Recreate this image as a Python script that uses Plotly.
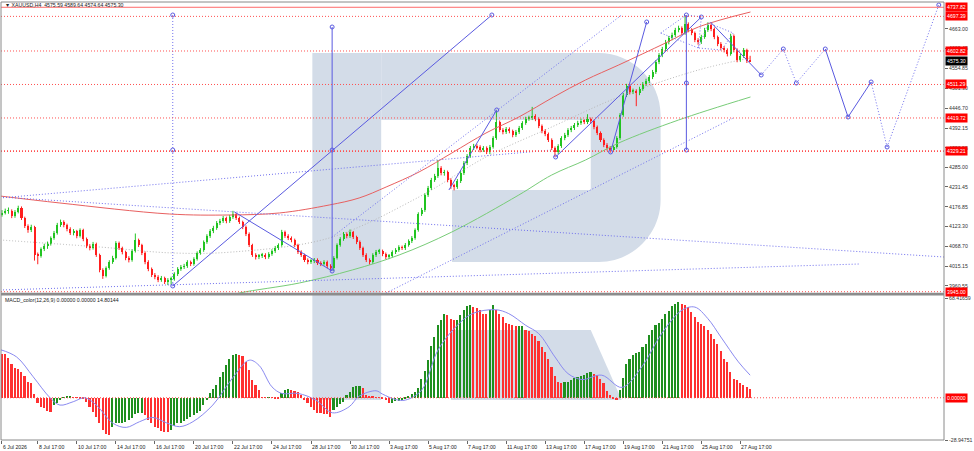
import plotly.graph_objects as go

# ---------------- data ----------------
closes = [4160.1, 4165.5, 4166.8, 4151.9, 4162.8, 4173.7, 4146.4, 4124.5, 4113.6, 4121.8,
          4045.3, 4042.6, 4061.7, 4069.9, 4075.3, 4091.7, 4105.4, 4127.3, 4135.5, 4127.3,
          4116.3, 4105.4, 4110.9, 4097.2, 4113.6, 4089.0, 4069.9, 4064.4, 4075.3, 4045.3,
          4004.3, 3987.9, 4009.8, 4026.2, 4037.1, 4078.1, 4064.4, 4053.5, 4037.1, 4031.6,
          4056.2, 4086.3, 4072.6, 4050.8, 4026.2, 4007.0, 3990.6, 3985.2, 3977.0, 3982.4,
          3971.5, 3977.0, 3979.7, 3993.4, 4007.0, 4012.5, 4015.2, 4026.2, 4020.7, 4034.4,
          4050.8, 4058.9, 4080.8, 4097.2, 4110.9, 4119.1, 4132.7, 4138.2, 4146.4, 4138.2,
          4149.1, 4157.3, 4146.4, 4135.5, 4121.8, 4102.7, 4072.6, 4045.3, 4039.8, 4042.6,
          4045.3, 4039.8, 4048.0, 4056.2, 4064.4, 4072.6, 4108.1, 4097.2, 4091.7, 4086.3,
          4072.6, 4053.5, 4045.3, 4031.6, 4026.2, 4028.9, 4031.6, 4023.4, 4020.7, 4026.2,
          4015.2, 4009.8, 4037.1, 4072.6, 4089.0, 4102.7, 4097.2, 4108.1, 4094.5, 4080.8,
          4064.4, 4045.3, 4031.6, 4026.2, 4045.3, 4053.5, 4056.2, 4048.0, 4039.8, 4042.6,
          4053.5, 4058.9, 4067.1, 4064.4, 4072.6, 4083.5, 4091.7, 4113.6, 4157.3, 4168.3,
          4209.3, 4228.4, 4250.3, 4261.2, 4283.1, 4269.4, 4272.1, 4250.3, 4233.9, 4231.1,
          4247.5, 4269.4, 4296.7, 4315.9, 4337.7, 4343.2, 4340.4, 4332.2, 4337.7, 4326.8,
          4340.4, 4365.0, 4408.8, 4386.9, 4381.4, 4389.6, 4384.2, 4373.2, 4381.4, 4392.4,
          4406.0, 4417.0, 4419.7, 4425.2, 4417.0, 4397.8, 4384.2, 4376.0, 4359.6, 4337.7,
          4326.8, 4343.2, 4365.0, 4373.2, 4386.9, 4392.4, 4400.6, 4406.0, 4411.5, 4408.8,
          4417.0, 4411.5, 4395.1, 4378.7, 4359.6, 4345.9, 4337.7, 4332.2, 4340.4, 4365.0,
          4427.9, 4482.6, 4507.2, 4490.8, 4493.5, 4488.0, 4499.0, 4512.6, 4520.8, 4531.8,
          4545.4, 4572.8, 4591.9, 4608.3, 4627.4, 4638.3, 4646.5, 4660.2, 4665.7, 4652.0,
          4676.6, 4660.2, 4652.0, 4632.9, 4627.4, 4641.1, 4660.2, 4673.9, 4662.9, 4641.1,
          4621.9, 4611.0, 4605.5, 4594.6, 4643.8, 4605.5, 4578.2, 4589.2, 4605.5, 4575.6,
          4575.3]

opens = [4155.0, 4160.1, 4165.5, 4166.8, 4151.9, 4162.8, 4173.7, 4146.4, 4124.5, 4113.6,
         4121.8, 4045.3, 4042.6, 4061.7, 4069.9, 4075.3, 4091.7, 4105.4, 4127.3, 4135.5,
         4127.3, 4116.3, 4105.4, 4110.9, 4097.2, 4113.6, 4089.0, 4069.9, 4064.4, 4075.3,
         4045.3, 4004.3, 3987.9, 4009.8, 4026.2, 4037.1, 4078.1, 4064.4, 4053.5, 4037.1,
         4031.6, 4056.2, 4086.3, 4072.6, 4050.8, 4026.2, 4007.0, 3990.6, 3985.2, 3977.0,
         3982.4, 3971.5, 3977.0, 3979.7, 3993.4, 4007.0, 4012.5, 4015.2, 4026.2, 4020.7,
         4034.4, 4050.8, 4058.9, 4080.8, 4097.2, 4110.9, 4119.1, 4132.7, 4138.2, 4146.4,
         4138.2, 4149.1, 4157.3, 4146.4, 4135.5, 4121.8, 4102.7, 4072.6, 4045.3, 4039.8,
         4042.6, 4045.3, 4039.8, 4048.0, 4056.2, 4064.4, 4072.6, 4108.1, 4097.2, 4091.7,
         4086.3, 4072.6, 4053.5, 4045.3, 4031.6, 4026.2, 4028.9, 4031.6, 4023.4, 4020.7,
         4026.2, 4015.2, 4009.8, 4037.1, 4072.6, 4089.0, 4102.7, 4097.2, 4108.1, 4094.5,
         4080.8, 4064.4, 4045.3, 4031.6, 4026.2, 4045.3, 4053.5, 4056.2, 4048.0, 4039.8,
         4042.6, 4053.5, 4058.9, 4067.1, 4064.4, 4072.6, 4083.5, 4091.7, 4113.6, 4157.3,
         4168.3, 4209.3, 4228.4, 4250.3, 4261.2, 4283.1, 4269.4, 4272.1, 4250.3, 4233.9,
         4231.1, 4247.5, 4269.4, 4296.7, 4315.9, 4337.7, 4343.2, 4340.4, 4332.2, 4337.7,
         4326.8, 4340.4, 4365.0, 4408.8, 4386.9, 4381.4, 4389.6, 4384.2, 4373.2, 4381.4,
         4392.4, 4406.0, 4417.0, 4419.7, 4425.2, 4417.0, 4397.8, 4384.2, 4376.0, 4359.6,
         4337.7, 4326.8, 4343.2, 4365.0, 4373.2, 4386.9, 4392.4, 4400.6, 4406.0, 4411.5,
         4408.8, 4417.0, 4411.5, 4395.1, 4378.7, 4359.6, 4345.9, 4337.7, 4332.2, 4340.4,
         4365.0, 4427.9, 4482.6, 4507.2, 4490.8, 4493.5, 4488.0, 4499.0, 4512.6, 4520.8,
         4531.8, 4545.4, 4572.8, 4591.9, 4608.3, 4627.4, 4638.3, 4646.5, 4660.2, 4665.7,
         4652.0, 4676.6, 4660.2, 4652.0, 4632.9, 4627.4, 4641.1, 4660.2, 4673.9, 4662.9,
         4641.1, 4621.9, 4611.0, 4605.5, 4594.6, 4643.8, 4605.5, 4578.2, 4589.2, 4605.5,
         4575.59]

highs = [4168, 4172, 4175, 4170, 4168, 4180, 4178, 4150, 4129, 4128,
         4125, 4052, 4066, 4076, 4082, 4096, 4111, 4133, 4142, 4140,
         4131, 4121, 4116, 4114, 4118, 4117, 4093, 4075, 4081, 4079,
         4049, 4009, 4014, 4031, 4043, 4083, 4082, 4068, 4057, 4042,
         4061, 4104, 4090, 4076, 4055, 4031, 4011, 3996, 3990, 3988,
         3986, 3982, 3986, 3998, 4012, 4018, 4021, 4031, 4030, 4039,
         4055, 4064, 4085, 4102, 4116, 4125, 4138, 4144, 4152, 4150,
         4155, 4166, 4160, 4150, 4139, 4126, 4107, 4076, 4050, 4048,
         4051, 4050, 4053, 4061, 4070, 4077, 4114, 4112, 4102, 4096,
         4090, 4076, 4058, 4049, 4036, 4034, 4037, 4036, 4028, 4031,
         4030, 4020, 4042, 4077, 4094, 4108, 4107, 4115, 4111, 4098,
         4085, 4068, 4050, 4036, 4050, 4059, 4062, 4060, 4052, 4048,
         4058, 4064, 4072, 4071, 4078, 4088, 4097, 4118, 4162, 4174,
         4214, 4234, 4256, 4267, 4305, 4288, 4278, 4276, 4255, 4240,
         4253, 4275, 4302, 4321, 4343, 4349, 4348, 4345, 4343, 4342,
         4346, 4370, 4442, 4413, 4392, 4395, 4394, 4388, 4387, 4398,
         4411, 4423, 4426, 4450, 4430, 4421, 4402, 4389, 4380, 4364,
         4342, 4348, 4370, 4379, 4392, 4398, 4406, 4412, 4418, 4416,
         4430, 4421, 4415, 4399, 4383, 4364, 4351, 4343, 4346, 4370,
         4433, 4488, 4513, 4512, 4500, 4498, 4505, 4518, 4527, 4537,
         4551, 4578, 4597, 4614, 4633, 4644, 4653, 4666, 4672, 4670,
         4701, 4681, 4665, 4656, 4638, 4647, 4666, 4681, 4678, 4667,
         4645, 4627, 4616, 4610, 4650, 4648, 4610, 4595, 4611, 4609,
         4589.64]

lows = [4150, 4156, 4158, 4146, 4147, 4159, 4141, 4119, 4106, 4108,
        4030, 4020, 4038, 4056, 4062, 4071, 4087, 4101, 4122, 4121,
        4110, 4100, 4099, 4091, 4093, 4083, 4064, 4058, 4060, 4040,
        3998, 3980, 3984, 4005, 4021, 4033, 4059, 4047, 4031, 4025,
        4027, 4052, 4067, 4045, 4020, 4001, 3985, 3979, 3971, 3972,
        3966, 3963, 3964, 3975, 3988, 4002, 4007, 4010, 4015, 4016,
        4030, 4046, 4054, 4076, 4092, 4105, 4114, 4127, 4133, 4132,
        4133, 4144, 4141, 4130, 4116, 4097, 4067, 4040, 4033, 4034,
        4037, 4034, 4035, 4043, 4051, 4059, 4068, 4092, 4086, 4080,
        4067, 4048, 4040, 4026, 4020, 4021, 4023, 4018, 4015, 4016,
        4009, 4003, 4002, 4033, 4068, 4084, 4091, 4092, 4089, 4075,
        4059, 4040, 4026, 4019, 4021, 4040, 4048, 4042, 4034, 4034,
        4038, 4048, 4054, 4059, 4059, 4068, 4078, 4087, 4109, 4152,
        4163, 4204, 4223, 4245, 4256, 4263, 4262, 4244, 4226, 4222,
        4226, 4242, 4264, 4291, 4311, 4332, 4334, 4326, 4327, 4321,
        4321, 4336, 4360, 4381, 4375, 4376, 4378, 4367, 4368, 4376,
        4387, 4401, 4412, 4414, 4411, 4392, 4378, 4370, 4354, 4332,
        4313, 4321, 4338, 4359, 4368, 4381, 4387, 4395, 4401, 4403,
        4403, 4405, 4389, 4373, 4354, 4340, 4331, 4325, 4327, 4336,
        4360, 4423, 4477, 4484, 4485, 4452, 4482, 4494, 4507, 4515,
        4526, 4540, 4567, 4586, 4603, 4621, 4632, 4641, 4654, 4646,
        4647, 4654, 4646, 4627, 4620, 4622, 4636, 4655, 4657, 4635,
        4616, 4605, 4599, 4588, 4590, 4599, 4572, 4573, 4584, 4570,
        4574.64]

macd = [30.3, 30.0, 27.0, 23.5, 20.7, 20.0, 17.8, 14.8, 10.9, 9.8,
        2.5, -3.9, -6.2, -7.3, -8.9, -9.6, -5.0, -3.9, -1.6, 0.3,
        0.7, 0.8, 0.2, 0.1, -0.3, -0.5, -2.7, -6.2, -9.6, -13.0,
        -17.6, -22.0, -24.9, -25.5, -19.8, -17.6, -17.2, -17.0, -16.9, -15.3,
        -14.1, -11.2, -10.7, -10.6, -11.5, -15.3, -17.6, -19.8, -21.0, -22.6,
        -23.3, -23.5, -22.0, -19.4, -17.6, -17.0, -15.7, -14.5, -13.0, -11.9,
        -10.7, -8.9, -5.0, -1.6, 3.0, 5.7, 8.7, 14.4, 17.8, 22.3,
        26.9, 29.2, 30.3, 29.2, 28.7, 24.6, 18.9, 12.5, 8.7, 5.2,
        0.5, 0.2, 0.4, 0.1, -0.5, -1.1, 3.4, 5.2, 5.7, 5.2,
        4.8, 4.1, 1.8, -1.6, -3.9, -6.6, -8.4, -10.3, -10.7, -10.8,
        -11.2, -13.0, -8.4, -6.2, -4.3, -2.7, 1.8, 4.1, 7.5, 8.2,
        8.3, 6.4, 1.8, 1.1, 0.7, 0.4, 0.3, -0.5, -1.6, -3.9,
        -3.4, -2.5, -2.0, -1.6, -0.8, 0.9, 2.5, 4.1, 6.4, 13.2,
        18.5, 25.8, 35.3, 41.7, 49.7, 53.6, 57.7, 56.5, 54.3, 53.1,
        53.6, 56.5, 60.4, 62.7, 63.4, 62.2, 61.5, 60.4, 57.7, 57.2,
        60.0, 63.4, 60.0, 57.7, 55.4, 51.3, 50.4, 49.7, 49.0, 49.3,
        49.5, 46.3, 45.5, 44.0, 42.5, 39.0, 35.0, 31.5, 26.9, 21.2,
        14.8, 10.9, 10.3, 10.5, 10.9, 12.5, 13.9, 14.0, 14.8, 15.5,
        17.1, 17.8, 16.6, 15.5, 13.2, 9.8, 4.8, 1.8, -0.5, -1.6,
        5.2, 13.9, 23.0, 26.9, 29.2, 30.8, 31.5, 34.9, 37.2, 42.9,
        46.3, 49.7, 51.3, 54.3, 57.2, 59.5, 62.7, 64.5, 65.4, 64.1,
        63.4, 62.2, 58.8, 55.4, 52.0, 50.8, 49.0, 46.7, 44.0, 40.6,
        37.2, 32.1, 26.9, 24.6, 17.8, 13.2, 12.1, 9.8, 8.6, 7.1,
        6.2]

signal_idx = [-0.6, 4.5, 9.6, 14.7, 17.8, 21.9, 25.5, 29, 34.2, 38.2, 42.3, 46.4, 50.5,
              54.6, 58.7, 64.8, 71, 76, 79, 83, 86, 91, 96.5, 101.6, 106.7, 109.8, 115,
              117, 121, 124, 129, 134, 139.5, 144.6, 151.7, 155.8, 161, 165, 170, 174,
              178.3, 184.4, 190.6, 196.7, 202.8, 209, 213, 217, 221, 226.4, 230]
signal_val = [33.1, 28.0, 14.4, 0.2, -5.0, -2.7, 0.0, -5.0, -17.6, -20.3, -16.4, -13.5, -17.1,
              -19.8, -16.4, -5.0, 13.9, 25.8, 22.3, 7.5, 3.0, 3.0, -1.6, -10.3, -6.2, 1.1, 4.8,
              2.5, -1.2, -1.6, 5.2, 32.6, 48.6, 57.7, 60.4, 57.7, 49.7, 44.0, 28.0, 16.6,
              12.5, 15.5, 7.1, 21.2, 44.0, 60.0, 62.2, 54.3, 41.7, 24.6, 15.5]

ma_red_idx = [-0.6, 17.8, 51.5, 69.9, 85.3, 100.6, 109.8, 118.1, 128.2, 138.3, 148.8, 158.9,
              169.6, 179.4, 189.6, 204.0, 214.1, 230.1]
ma_red_val = [4206.5, 4187.4, 4157.3, 4154.6, 4160.1, 4181.9, 4201.1, 4231.1, 4272.1, 4324.0,
              4378.7, 4422.4, 4477.1, 4523.6, 4564.6, 4624.7, 4668.4, 4709.4]
ma_green_idx = [66.0, 73.0, 91.4, 107.7, 122.1, 138.3, 158.9, 169.0, 179.4, 189.6, 208.0, 230.1]
ma_green_val = [3925.0, 3941.4, 3968.7, 4004.3, 4045.3, 4108.1, 4209.3, 4263.9, 4304.9, 4351.4,
                4414.2, 4477.1]
ma_gray_idx = [-0.6, 30.1, 52.5, 70.9, 100.6, 128.2, 148.8, 169.0, 189.6, 214.1, 230.1]
ma_gray_val = [4086.3, 4067.1, 4050.8, 4053.5, 4091.7, 4203.8, 4313.1, 4395.1, 4477.1, 4550.9,
               4583.7]

# horizontal levels
level_prices = [4697.39, 4602.82, 4511.29, 4419.72, 4329.21, 3945.00]
top_level_label = "4737.82"
top_level_price = 4722.3
current_price = 4575.30

price_ticks = [4663.00, 4609.45, 4554.85, 4501.30, 4446.70, 4392.15, 4338.55, 4285.00,
               4231.45, 4176.85, 4123.30, 4068.70, 4015.15, 3960.55]
macd_ticks = [68.41659, -28.94751]

date_idx = [0, 11, 23, 35, 47, 59, 71, 83, 95, 107, 119, 131, 143, 155, 167, 179, 191, 203, 215, 227]
date_labels = ["6 Jul 2026", "8 Jul 17:00", "10 Jul 17:00", "14 Jul 17:00", "16 Jul 17:00",
               "20 Jul 17:00", "22 Jul 17:00", "24 Jul 17:00", "28 Jul 17:00", "30 Jul 17:00",
               "3 Aug 17:00", "5 Aug 17:00", "7 Aug 17:00", "11 Aug 17:00", "13 Aug 17:00",
               "17 Aug 17:00", "19 Aug 17:00", "21 Aug 17:00", "25 Aug 17:00", "27 Aug 17:00"]

# analyst drawings: segments ((idx0, price0), (idx1, price1))
solid_segments = [((52.5, 3960.6), (150.6, 4701.2)),
                  ((71.5, 4162.8), (101.5, 4001.5)),
                  ((101.5, 4668.4), (101.5, 4001.5)),
                  ((137.4, 4222.9), (152.1, 4441.6)),
                  ((170.2, 4313.1), (215.0, 4695.7)),
                  ((187.1, 4326.8), (198.2, 4682.1)),
                  ((210.4, 4701.2), (210.4, 4332.2)),
                  ((217.8, 4682.1), (233.4, 4537.2))]
dotted_segments = [((-0.6, 4203.8), (289.6, 4039.8)),
                   ((-0.6, 4201.1), (169.0, 4332.2)),
                   ((-0.6, 3949.6), (263.8, 4020.7)),
                   ((118.1, 3941.4), (224.8, 4419.7)),
                   ((101.5, 4094.5), (190.5, 4701.2)),
                   ((52.5, 4701.2), (52.5, 3960.6))]
pattern_a_idx = [202.5, 210.4, 215.0, 214.1, 202.5]
pattern_a_val = [4652.0, 4701.2, 4695.7, 4611.0, 4652.0]
pattern_b_idx = [214.1, 217.2, 224.8, 221.2, 214.1]
pattern_b_val = [4611.0, 4679.3, 4652.0, 4605.5, 4611.0]
anchor_idx = [52.5, 52.5, 52.5, 101.5, 101.5, 101.5, 210.4, 210.4, 210.4, 150.6, 152.1, 170.2, 187.1, 198.2, 215.0]
anchor_val = [4701.2, 4332.2, 3960.6, 4668.4, 4332.2, 4001.5, 4701.2, 4515.3, 4332.2, 4701.2, 4441.6, 4313.1, 4326.8, 4682.1, 4695.7]

forecast_idx = [233.4, 240.2, 244.2, 253.1, 260.1, 267.2, 272.1, 288.0]
forecast_val = [4537.2, 4608.3, 4515.3, 4608.3, 4422.4, 4518.1, 4340.4, 4728.5]
forecast_dash = ["dot", "dot", "dot", "solid", "solid", "dot", "dot"]

# ---------------- styling ----------------
BULL = "#22c422"
BEAR = "#ff1f1f"
MACD_UP = "#1f8f1f"
MACD_DN = "#ff3030"
BLUE = "#5a5ae0"
BLUE_DOT = "#7070ee"
LVL = "#ff5050"
FONT = "Liberation Sans"
FS = 5.2
DOT = "1px,2px"

W, H = 974, 451
ML, MR, MT, MB = 1, 28, 2, 11
PW = W - ML - MR
PH = H - MT - MB
MAIN_BOTTOM_PX = 293
MACD_TOP_PX = 296


def px_x(x):
    return (x - ML) / PW


def px_y(y):
    return (H - MB - y) / PH


fig = go.Figure()

n = len(closes)
idx = list(range(n))
is_bull = [c >= o for o, c in zip(opens, closes)]
body_base = [min(o, c) for o, c in zip(opens, closes)]
body_h = [max(abs(c - o), 0.9) for o, c in zip(opens, closes)]

fig.add_trace(go.Scatter(x=ma_gray_idx, y=ma_gray_val, mode="lines", line=dict(color="#b8b8b8", width=1, dash=DOT, shape="spline"), xaxis="x", yaxis="y", hoverinfo="skip"))

for flag, col in ((True, BULL), (False, BEAR)):
    wx, wy = [], []
    for i in range(n):
        if is_bull[i] == flag:
            wx += [i, i, None]
            wy += [lows[i], highs[i], None]
    fig.add_trace(go.Scatter(x=wx, y=wy, mode="lines", line=dict(color=col, width=1), xaxis="x", yaxis="y", hoverinfo="skip"))

fig.add_trace(go.Bar(x=idx, y=body_h, base=body_base, width=0.62,
                     marker=dict(color=[BULL if b else BEAR for b in is_bull], line=dict(width=0)),
                     xaxis="x", yaxis="y", hoverinfo="skip"))

fig.add_trace(go.Scatter(x=ma_red_idx, y=ma_red_val, mode="lines", line=dict(color="#e86060", width=1, shape="spline"), xaxis="x", yaxis="y", hoverinfo="skip"))
fig.add_trace(go.Scatter(x=ma_green_idx, y=ma_green_val, mode="lines", line=dict(color="#78cc78", width=1, shape="spline"), xaxis="x", yaxis="y", hoverinfo="skip"))

for (a, b) in solid_segments:
    fig.add_trace(go.Scatter(x=[a[0], b[0]], y=[a[1], b[1]], mode="lines", line=dict(color=BLUE, width=1), xaxis="x", yaxis="y", hoverinfo="skip"))
for (a, b) in dotted_segments:
    fig.add_trace(go.Scatter(x=[a[0], b[0]], y=[a[1], b[1]], mode="lines", line=dict(color=BLUE_DOT, width=1, dash=DOT), xaxis="x", yaxis="y", hoverinfo="skip"))
for px_, pv_ in ((pattern_a_idx, pattern_a_val), (pattern_b_idx, pattern_b_val)):
    fig.add_trace(go.Scatter(x=px_, y=pv_, mode="lines", line=dict(color=BLUE_DOT, width=1, dash=DOT), xaxis="x", yaxis="y", hoverinfo="skip"))
for k in range(len(forecast_idx) - 1):
    d = forecast_dash[k]
    fig.add_trace(go.Scatter(x=forecast_idx[k:k + 2], y=forecast_val[k:k + 2], mode="lines",
                             line=dict(color=BLUE if d == "solid" else BLUE_DOT, width=1, dash=DOT if d == "dot" else "solid"),
                             xaxis="x", yaxis="y", hoverinfo="skip"))
fig.add_trace(go.Scatter(x=forecast_idx + anchor_idx, y=forecast_val + anchor_val, mode="markers",
                         marker=dict(color="rgba(0,0,0,0)", size=4, line=dict(color=BLUE, width=1)),
                         xaxis="x", yaxis="y", hoverinfo="skip"))

# MACD
mcol = [MACD_UP if (i > 0 and macd[i] > macd[i - 1]) else MACD_DN for i in range(n)]
fig.add_trace(go.Bar(x=idx, y=macd, width=0.5, marker=dict(color=mcol, line=dict(width=0)), xaxis="x2", yaxis="y2", hoverinfo="skip"))
fig.add_trace(go.Scatter(x=signal_idx, y=signal_val, mode="lines", line=dict(color="#8a8af0", width=1, shape="spline", smoothing=1.0), xaxis="x2", yaxis="y2", hoverinfo="skip"))

# ---------------- shapes ----------------
shapes = []
WM = "#d3dce8"


def path(points, close=True):
    s = ""
    for k, p in enumerate(points):
        if p[0] == "C":
            s += " C %.5f,%.5f %.5f,%.5f %.5f,%.5f" % (px_x(p[1]), px_y(p[2]), px_x(p[3]), px_y(p[4]), px_x(p[5]), px_y(p[6]))
        else:
            s += (" M" if k == 0 else " L") + " %.5f,%.5f" % (px_x(p[0]), px_y(p[1]))
    return s + (" Z" if close else "")


stem = [(313, 53), (382, 53), (382, 400), (313, 400)]
bowl = [(382, 53), (600, 53), ("C", 634, 53, 662, 81, 662, 115), (662, 200),
        ("C", 662, 234, 634, 262, 600, 262), (453, 262), (453, 190), (592, 190), (592, 120), (382, 120)]
leg = [(452, 330), (592, 330), (623, 400), (452, 400)]
for pts in (stem, bowl, leg):
    shapes.append(dict(type="path", xref="paper", yref="paper", path=path(pts), fillcolor=WM, line=dict(width=0), layer="below"))

for lp in level_prices:
    shapes.append(dict(type="line", xref="paper", x0=0, x1=1, yref="y", y0=lp, y1=lp,
                       line=dict(color=LVL, width=1.6 if lp == 4329.21 else 1, dash=DOT)))
shapes.append(dict(type="line", xref="paper", x0=0, x1=1, yref="y", y0=top_level_price, y1=top_level_price, line=dict(color="#ff6a6a", width=1)))
shapes.append(dict(type="line", xref="paper", x0=0, x1=1, yref="y2", y0=0, y1=0, line=dict(color=LVL, width=1, dash=DOT)))

shapes.append(dict(type="rect", xref="paper", yref="paper", x0=0, x1=1, y0=0, y1=1, line=dict(color="#8a8a8a", width=1)))
shapes.append(dict(type="rect", xref="paper", yref="paper", x0=0, x1=1, y0=px_y(295.5), y1=px_y(292.8), fillcolor="#8c8c8c", line=dict(width=0)))

# ---------------- annotations ----------------
ann = []
for lp in level_prices:
    ann.append(dict(x=1, xref="paper", xanchor="left", xshift=1, y=lp, yref="y", text="%.2f" % lp, showarrow=False,
                    bgcolor="#ff0000", font=dict(color="white", size=FS, family=FONT), borderpad=1))
ann.append(dict(x=1, xref="paper", xanchor="left", xshift=1, y=top_level_price, yref="y", text=top_level_label, showarrow=False,
                bgcolor="#ff0000", font=dict(color="white", size=FS, family=FONT), borderpad=1))
ann.append(dict(x=1, xref="paper", xanchor="left", xshift=1, y=current_price, yref="y", text="%.2f" % current_price, showarrow=False,
                bgcolor="#000000", font=dict(color="white", size=FS, family=FONT), borderpad=1))
ann.append(dict(x=1, xref="paper", xanchor="left", xshift=1, y=0, yref="y2", text="0.00000", showarrow=False,
                bgcolor="#ff0000", font=dict(color="white", size=FS, family=FONT), borderpad=1))
ann.append(dict(x=px_x(3), xref="paper", xanchor="left", y=px_y(5), yref="paper", yanchor="middle",
                text="▼ XAUUSD,H4  4575.59 4589.64 4574.64 4575.30", showarrow=False,
                font=dict(color="#222", size=FS, family=FONT)))
ann.append(dict(x=px_x(3), xref="paper", xanchor="left", y=px_y(300), yref="paper", yanchor="middle",
                text="MACD_color(12,26,9) 0.00000 0.00000 14.80144", showarrow=False,
                font=dict(color="#222", size=FS, family=FONT)))
for di, dl in zip(date_idx, date_labels):
    ann.append(dict(x=di, xref="x2", xanchor="left", xshift=-1, y=0, yref="paper", yanchor="top", yshift=-1.5,
                    text=dl, showarrow=False, font=dict(color="#222", size=FS, family=FONT)))

axis_font = dict(size=FS, color="#333", family=FONT)
fig.update_layout(
    width=W, height=H, margin=dict(l=ML, r=MR, t=MT, b=MB),
    paper_bgcolor="white", plot_bgcolor="rgba(0,0,0,0)", showlegend=False,
    barmode="overlay", bargap=0,
    xaxis=dict(domain=[0, 1], range=[-0.3, 289.6], showticklabels=False, showgrid=False, zeroline=False,
               anchor="y", ticks=""),
    xaxis2=dict(domain=[0, 1], range=[-0.3, 289.6], anchor="y2", tickvals=date_idx, ticks="outside", ticklen=3,
                tickcolor="#666", showticklabels=False, showgrid=False, zeroline=False),
    yaxis=dict(domain=[px_y(MAIN_BOTTOM_PX), 1], range=[3941.4, 4736.7], side="right", anchor="x",
               tickvals=price_ticks, ticktext=["%.2f" % v for v in price_ticks], ticks="outside", ticklen=3,
               tickcolor="#666", tickfont=axis_font, showgrid=False, zeroline=False),
    yaxis2=dict(domain=[0, px_y(MACD_TOP_PX)], range=[-28.95, 69.8], side="right", anchor="x2",
                tickvals=macd_ticks, ticktext=["%.5f" % v for v in macd_ticks], ticks="outside", ticklen=3,
                tickcolor="#666", tickfont=axis_font, showgrid=False, zeroline=False),
    shapes=shapes, annotations=ann,
)

fig.write_html("out.html", config={"displayModeBar": False},
               post_script="document.body.style.margin='0';document.body.style.overflow='hidden';")
